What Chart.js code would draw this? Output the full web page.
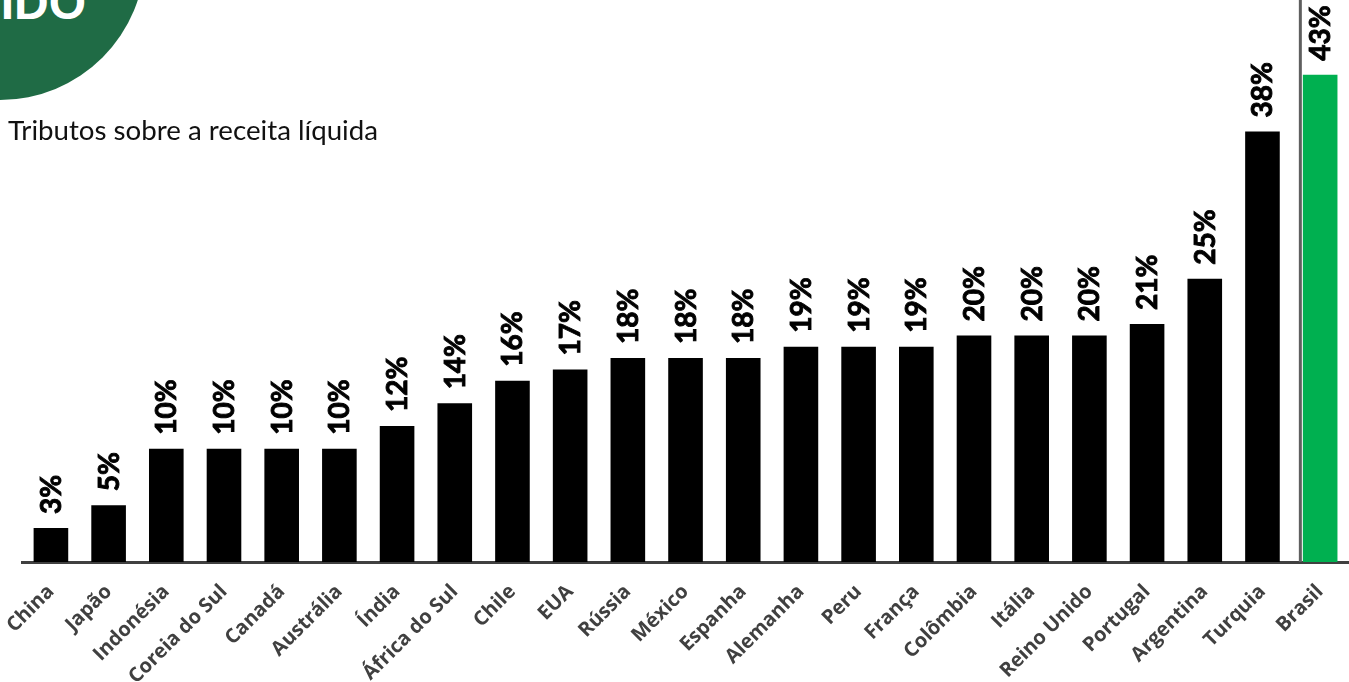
<!DOCTYPE html>
<html>
<head>
<meta charset="utf-8">
<script src="https://cdn.jsdelivr.net/npm/chart.js@4/dist/chart.umd.min.js"></script>
<style>
  html, body { margin: 0; padding: 0; background: #fff; overflow: hidden; }
  #wrap { position: relative; width: 1349px; height: 682px; overflow: hidden; }
  #badge {
    position: absolute; left: -145px; top: -190px; width: 290px; height: 290px;
    border-radius: 50%; background: #1f6b45;
  }
  #badgeText {
    position: absolute; left: 0; top: -25px; width: 86px; text-align: right;
    font: bold 48px "Liberation Sans", Arial, sans-serif; color: #fff; white-space: nowrap;
  }
  #subtitle {
    position: absolute; left: 8px; top: 113px;
    font: 27.7px Lato, "Noto Sans", sans-serif; color: #111;
  }
  canvas { position: absolute; left: 0; top: 0; }
</style>
</head>
<body>
<div id="wrap">
  <canvas id="chart" width="1349" height="682"></canvas>
  <div id="badge"></div>
  <div id="badgeText">IDO</div>
  <div id="subtitle">Tributos sobre a receita líquida</div>
</div>
<script>
const countries = ["China", "Japão", "Indonésia", "Coreia do Sul", "Canadá", "Austrália", "Índia",
  "África do Sul", "Chile", "EUA", "Rússia", "México", "Espanha", "Alemanha", "Peru", "França",
  "Colômbia", "Itália", "Reino Unido", "Portugal", "Argentina", "Turquia", "Brasil"];
const taxShare = [3, 5, 10, 10, 10, 10, 12, 14, 16, 17, 18, 18, 18, 19, 19, 19, 20, 20, 20, 21, 25, 38, 43];
const highlight = "Brasil";

const barColors = countries.map(c => c === highlight ? '#00b050' : '#000000');

// rotated value labels above bars + separator line before Brasil
const valueLabels = {
  id: 'valueLabels',
  afterDatasetsDraw(chart) {
    const ctx = chart.ctx;
    const meta = chart.getDatasetMeta(0);
    ctx.save();
    ctx.font = 'bold 28px Lato, "Noto Sans", sans-serif';
    ctx.fillStyle = '#000';
    ctx.strokeStyle = '#000';
    ctx.lineWidth = 0.9;
    ctx.textAlign = 'left';
    ctx.textBaseline = 'middle';
    meta.data.forEach((bar, i) => {
      ctx.save();
      ctx.translate(bar.x, bar.y - 14);
      ctx.rotate(-Math.PI / 2);
      ctx.fillText(taxShare[i] + '%', 0, 1);
      ctx.strokeText(taxShare[i] + '%', 0, 1);
      ctx.restore();
    });
    const hi = countries.indexOf(highlight);
    const b = meta.data[hi];
    const lx = b.x - b.width / 2 - 2.5;
    ctx.strokeStyle = '#5f5f5f';
    ctx.lineWidth = 3;
    ctx.beginPath();
    ctx.moveTo(lx, 0);
    ctx.lineTo(lx, chart.chartArea.bottom);
    ctx.stroke();
    ctx.restore();
  }
};

new Chart(document.getElementById('chart'), {
  type: 'bar',
  data: {
    labels: countries,
    datasets: [{
      data: taxShare,
      backgroundColor: barColors,
      categoryPercentage: 1,
      barPercentage: 0.6
    }]
  },
  options: {
    responsive: false,
    animation: false,
    layout: { padding: { left: 21, right: -2, top: 0, bottom: 0 } },
    plugins: { legend: { display: false }, tooltip: { enabled: false } },
    scales: {
      y: { display: false, min: 0, max: 49.6 },
      x: {
        grid: { display: false },
        border: { display: true, color: '#404040', width: 3 },
        afterFit(scale) { scale.height = 120; },
        ticks: {
          autoSkip: false,
          maxRotation: 45,
          minRotation: 45,
          padding: 10,
          color: '#404040',
          font: { family: '"Open Sans", sans-serif', weight: 'bold', size: 20 }
        }
      }
    }
  },
  plugins: [valueLabels]
});
</script>
</body>
</html>
